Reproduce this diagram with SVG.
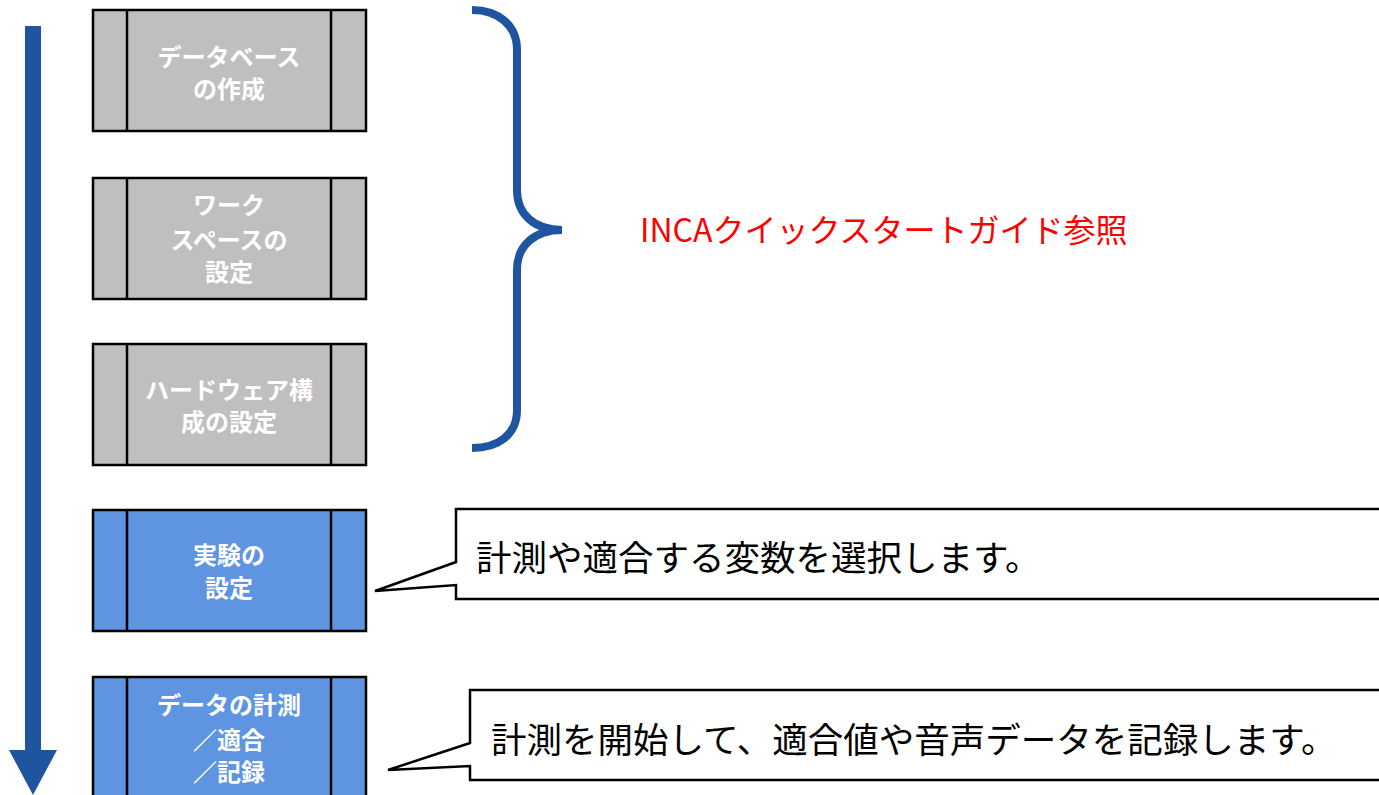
<svg xmlns="http://www.w3.org/2000/svg" width="1379" height="795" viewBox="0 0 1379 795">
<style>
.box{stroke:#000;stroke-width:2.5}
.gray{fill:#BFBFBF}
.blue{fill:#5E94E0}
.div{stroke:#000;stroke-width:2.5}
.bt{font-family:"Noto Sans CJK JP",sans-serif;font-weight:bold;font-size:24px;fill:#fff;text-anchor:middle}
.ct{font-family:"Noto Sans CJK JP",sans-serif;font-size:35.5px;fill:#000}
.call{fill:#fff;stroke:#000;stroke-width:2.5}
</style>
<rect width="1379" height="795" fill="#fff"/>
<g id="connectors">
<rect x="25" y="26" width="16" height="726" fill="#1F55A0"/>
<polygon points="9,750 57,750 33,795" fill="#1F55A0"/>
<path d="M472,10 C498,10 517,25 517,50 L517,190 C517,215 535,230 562,230 C535,230 517,245 517,270 L517,410 C517,435 498,448 472,448" fill="none" stroke="#1F55A0" stroke-width="8"/>
</g>
<g id="n1">
<rect class="box gray" x="93" y="10" width="273" height="121"/>
<line class="div" x1="127" y1="10" x2="127" y2="131"/><line class="div" x1="331" y1="10" x2="331" y2="131"/>
<text class="bt" x="229" y="66">データベース</text>
<text class="bt" x="229" y="98">の作成</text>
</g>
<g id="n2">
<rect class="box gray" x="93" y="178" width="273" height="121"/>
<line class="div" x1="127" y1="178" x2="127" y2="299"/><line class="div" x1="331" y1="178" x2="331" y2="299"/>
<text class="bt" x="229" y="214">ワーク</text>
<text class="bt" x="229" y="249">スペースの</text>
<text class="bt" x="229" y="281">設定</text>
</g>
<g id="n3">
<rect class="box gray" x="93" y="344" width="273" height="121"/>
<line class="div" x1="127" y1="344" x2="127" y2="465"/><line class="div" x1="331" y1="344" x2="331" y2="465"/>
<text class="bt" x="229" y="399">ハードウェア構</text>
<text class="bt" x="229" y="431">成の設定</text>
</g>
<g id="n4">
<rect class="box blue" x="93" y="510" width="273" height="121"/>
<line class="div" x1="127" y1="510" x2="127" y2="631"/><line class="div" x1="331" y1="510" x2="331" y2="631"/>
<text class="bt" x="229" y="564">実験の</text>
<text class="bt" x="229" y="597">設定</text>
</g>
<g id="n5">
<rect class="box blue" x="93" y="677" width="273" height="130"/>
<line class="div" x1="127" y1="677" x2="127" y2="800"/><line class="div" x1="331" y1="677" x2="331" y2="800"/>
<text class="bt" x="229" y="714">データの計測</text>
<text class="bt" x="229" y="749">／適合</text>
<text class="bt" x="229" y="781">／記録</text>
</g>
<g id="label">
<text x="640" y="242" font-family="'Noto Sans CJK JP',sans-serif" font-size="32" fill="#FF0000">INCAクイックスタートガイド参照</text>
</g>
<g id="callout1">
<path class="call" d="M1400,509 L456,509 L456,562 L375,591 L456,585 L456,599 L1400,599"/>
<text class="ct" x="476" y="571">計測や適合する変数を選択します。</text>
</g>
<g id="callout2">
<path class="call" d="M1400,690 L470,690 L470,743 L388,770 L470,766 L470,780 L1400,780"/>
<text class="ct" x="491" y="753">計測を開始して、適合値や音声データを記録します。</text>
</g>
</svg>
